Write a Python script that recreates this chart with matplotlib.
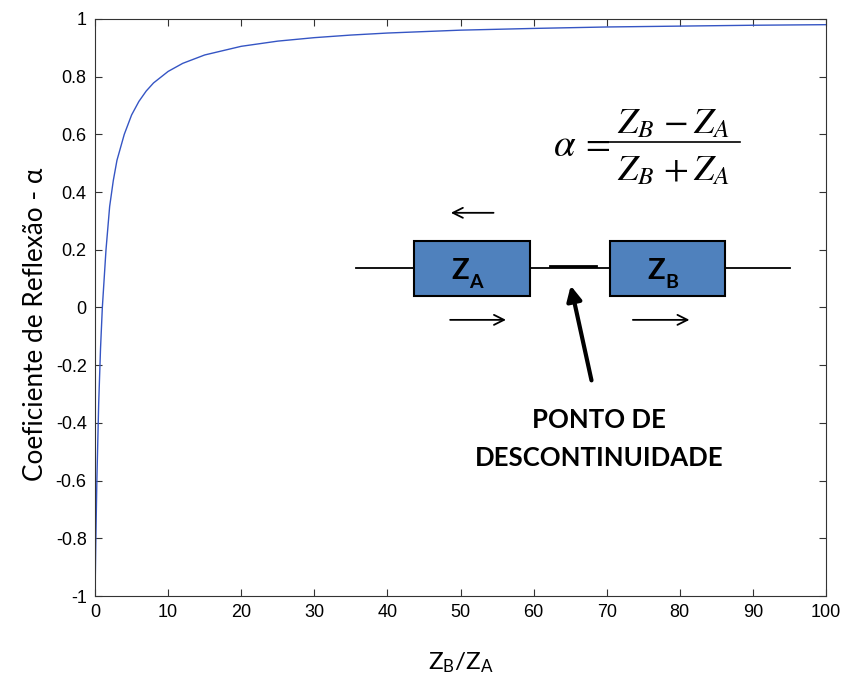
import matplotlib
matplotlib.use("Agg")
import matplotlib.pyplot as plt
from matplotlib.patches import Rectangle

# Data (ratio Z_B/Z_A vs reflection coefficient)
ratio = [0, 0.1, 0.25, 0.5, 0.75, 1, 1.5, 2, 2.5, 3, 4, 5, 6, 7, 8, 10, 12, 15,
         20, 25, 30, 35, 40, 50, 60, 70, 80, 90, 100]
alpha = [-1.0, -0.82, -0.60, -0.333, -0.143, 0.0, 0.20, 0.35, 0.44, 0.51, 0.60,
         0.667, 0.714, 0.75, 0.778, 0.818, 0.846, 0.875, 0.905, 0.923, 0.935,
         0.944, 0.951, 0.961, 0.967, 0.972, 0.975, 0.978, 0.980]
xticks = [0, 10, 20, 30, 40, 50, 60, 70, 80, 90, 100]
yticks = [-1, -0.8, -0.6, -0.4, -0.2, 0, 0.2, 0.4, 0.6, 0.8, 1]
ytick_labels = ["-1", "-0.8", "-0.6", "-0.4", "-0.2", "0", "0.2", "0.4", "0.6", "0.8", "1"]

plt.rcParams['mathtext.fontset'] = 'stix'

fig = plt.figure(figsize=(8.47, 6.75), dpi=100)
ax = fig.add_axes([0.1122, 0.117, 0.863, 0.855])
ax.plot(ratio, alpha, color='#3555C4', lw=1.0)
ax.set_xlim(0, 100)
ax.set_ylim(-1, 1)
ax.set_xticks(xticks)
ax.set_xticklabels([str(t) for t in xticks])
ax.set_yticks(yticks)
ax.set_yticklabels(ytick_labels)
ax.tick_params(direction='in', length=5, width=0.8, top=True, right=True,
               labelsize=13, pad=6, colors='#333333', labelcolor='black')
for lab in ax.get_xticklabels() + ax.get_yticklabels():
    lab.set_family('Liberation Sans')
for s in ax.spines.values():
    s.set_linewidth(0.8)
    s.set_color('#333333')

ax.set_xlabel(r'$\mathregular{Z_B/Z_A}$', fontsize=17.5, family='Lato')
ax.xaxis.set_label_coords(0.5, -0.095)
ax.set_ylabel('Coeficiente de Reflexão - α', fontsize=18.8, family='Lato')
ax.yaxis.set_label_coords(-0.064, 0.47)

# Diagram
lw = 1.3
ax.plot([35.7, 43.6], [0.137, 0.137], color='black', lw=lw)
ax.plot([59.5, 70.5], [0.137, 0.137], color='black', lw=lw)
ax.plot([62.2, 68.5], [0.142, 0.142], color='black', lw=2.0)
ax.plot([86.2, 95.1], [0.137, 0.137], color='black', lw=lw)
ax.add_patch(Rectangle((43.6, 0.040), 15.9, 0.190, facecolor='#4F81BD',
                       edgecolor='black', lw=1.5, zorder=3))
ax.add_patch(Rectangle((70.5, 0.040), 15.7, 0.190, facecolor='#4F81BD',
                       edgecolor='black', lw=1.5, zorder=3))
for xc, sub in [(51.5, 'A'), (78.3, 'B')]:
    ax.text(xc - 0.3, 0.125, 'Z', fontsize=21, fontweight='bold', family='Lato',
            ha='right', va='center', zorder=4)
    ax.text(xc - 0.3, 0.085, sub, fontsize=14, fontweight='bold', family='Lato',
            ha='left', va='center', zorder=4)

arrow_kw = dict(arrowstyle='->', color='black', lw=1.3, mutation_scale=18)
ax.annotate('', xy=(48.3, 0.328), xytext=(54.9, 0.328), arrowprops=arrow_kw)
ax.annotate('', xy=(56.6, -0.043), xytext=(48.2, -0.043), arrowprops=arrow_kw)
ax.annotate('', xy=(81.7, -0.043), xytext=(73.2, -0.043), arrowprops=arrow_kw)
ax.annotate('', xy=(65.0, 0.085), xytext=(68.0, -0.262),
            arrowprops=dict(arrowstyle='-|>', color='black', lw=3, mutation_scale=22))

ax.text(69.0, -0.39, 'PONTO DE', fontsize=18.5, fontweight='bold', family='Lato',
        ha='center', va='center')
ax.text(69.0, -0.522, 'DESCONTINUIDADE', fontsize=18.5, fontweight='bold', family='Lato',
        ha='center', va='center')

# Formula
ax.text(64.2, 0.563, r'$\alpha$', fontsize=28, ha='center', va='center')
ax.text(68.4, 0.57, r'$=$', fontsize=26, ha='center', va='center')
ax.plot([70.2, 88.2], [0.574, 0.574], color='black', lw=1.2)
ax.text(79.1, 0.638, r'$Z_B\,-Z_A$', fontsize=26, ha='center', va='center')
ax.text(79.1, 0.477, r'$Z_B\,+Z_A$', fontsize=26, ha='center', va='center')

fig.savefig('out.png', dpi=100)
